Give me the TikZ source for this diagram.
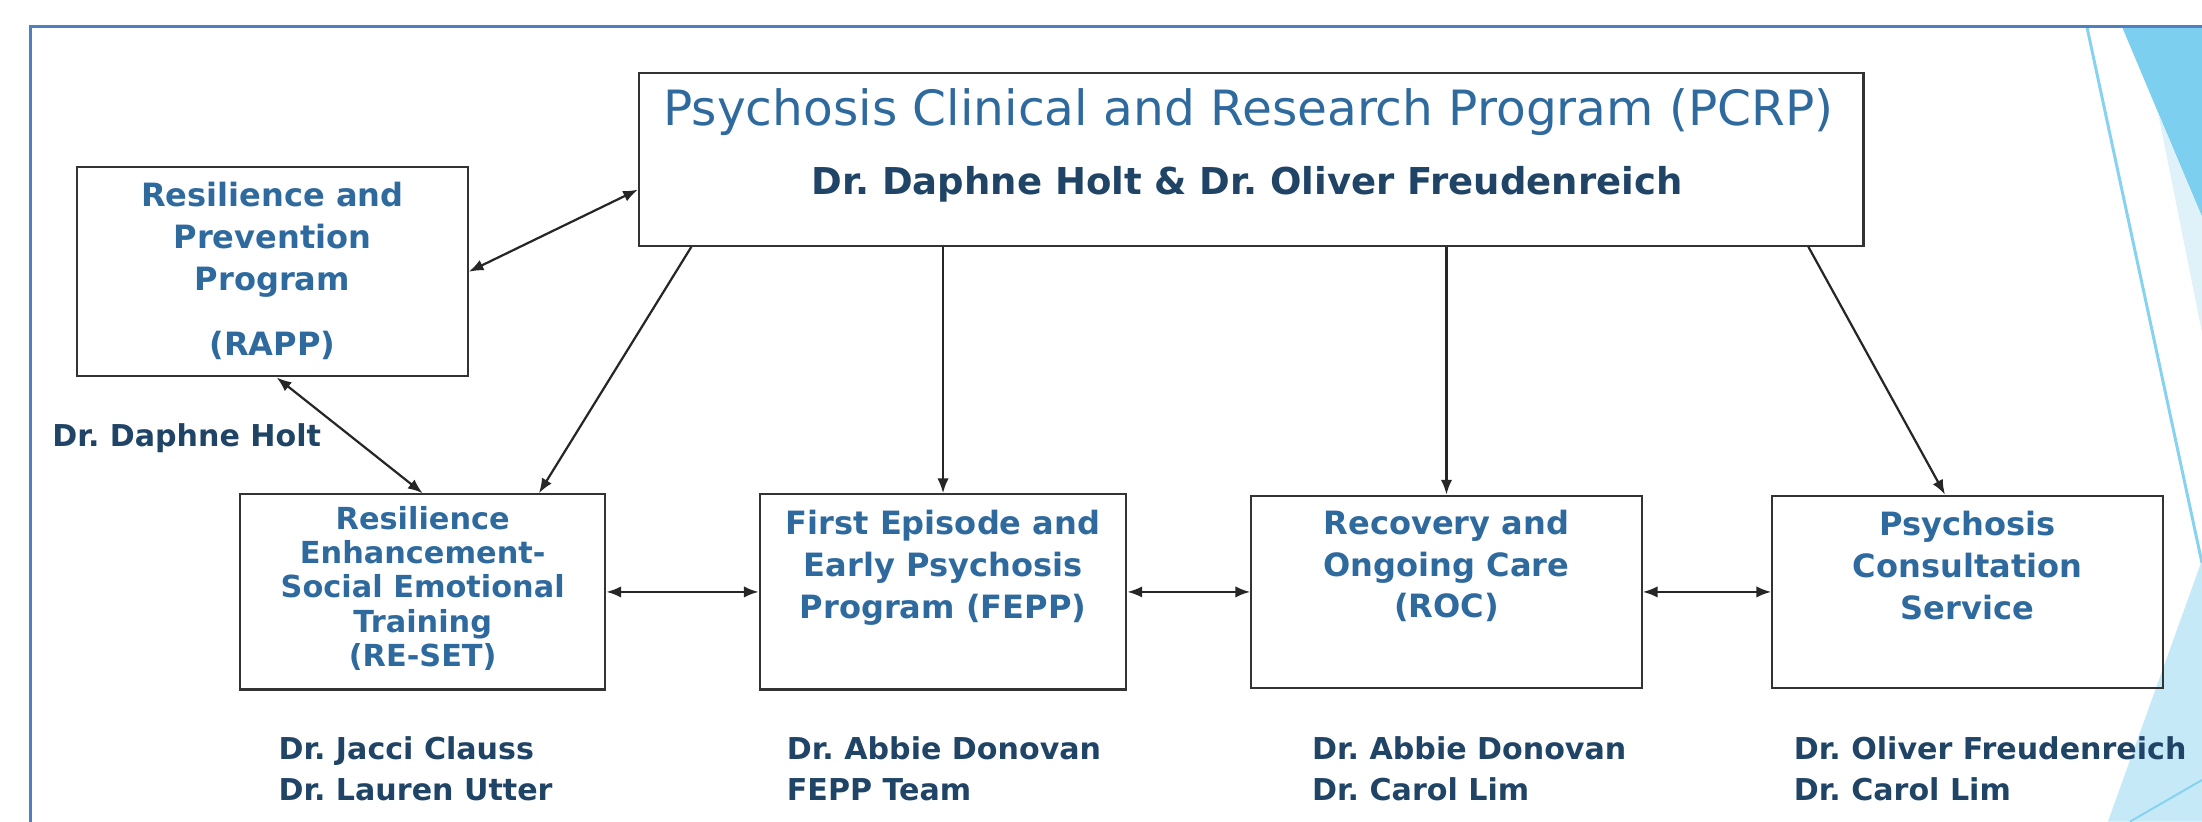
\documentclass[tikz,border=0pt]{standalone}
\usepackage{fontspec}
\setmainfont{DejaVu Sans}
\usepackage{tikz}
\usetikzlibrary{arrows.meta}
\frenchspacing

\definecolor{boxblue}{RGB}{46,106,158}
\definecolor{navy}{RGB}{31,68,102}
\definecolor{frameblue}{RGB}{78,127,192}
\definecolor{decodark}{RGB}{124,207,238}
\definecolor{decopale}{RGB}{223,242,250}
\definecolor{decolight}{RGB}{197,233,247}
\definecolor{decoline}{RGB}{134,210,240}

\begin{document}
\begin{tikzpicture}[x=0.02cm, y=-0.02cm, >={Latex[length=6pt,width=4.6pt]},
  prog/.style={draw=black!80, line width=0.9pt, inner sep=0pt},
  progtext/.style={align=center, text=boxblue, font=\bfseries\fontsize{13}{17}\selectfont},
  names/.style={anchor=west, align=left, inner sep=0pt, text=navy, font=\bfseries\fontsize{12.2}{16.5}\selectfont},
  link/.style={draw=black!85, line width=0.9pt}]
  \useasboundingbox (0,0) rectangle (1568,585);
  \clip (0,0) rectangle (1568,585);
  % slide background
  \fill[decodark] (1511,19) -- (1568,19) -- (1568,154.5) -- cycle;
  \fill[decopale] (1536.7,80.5) -- (1568,154.5) -- (1568,237) -- cycle;
  \fill[decolight] (1501,585) -- (1568,585) -- (1568,398.8) -- cycle;
  \draw[decoline, line width=1.2pt] (1486,19) -- (1568,401);
  \draw[decoline, line width=0.8pt] (1516.8,585) -- (1568,555.4);
  \draw[frameblue, line width=1.2pt] (22,600) -- (22,19) -- (1600,19);

  \node[prog, minimum width=17.44cm, minimum height=2.46cm] (pcrp) at (891,113.5) {};
  \node[prog, minimum width=5.56cm, minimum height=2.98cm] (rapp) at (194,193.5) {};
  \node[prog, minimum width=5.2cm, minimum height=2.78cm] (reset) at (301,421.5) {};
  \node[prog, minimum width=5.22cm, minimum height=2.78cm] (fepp) at (671.5,421.5) {};
  \node[prog, minimum width=5.56cm, minimum height=2.74cm] (roc) at (1030,421.5) {};
  \node[prog, minimum width=5.56cm, minimum height=2.74cm] (pcs) at (1401,421.5) {};

  \node[text=boxblue, font=\fontsize{19.7}{24}\selectfont] (pcrptitle) at (889,80) {Psychosis Clinical and Research Program (PCRP)};
  \node[text=navy, font=\bfseries\fontsize{15}{18}\selectfont] (pcrpheads) at (888,131) {Dr. Daphne Holt \& Dr. Oliver Freudenreich};
  \node[progtext] (rapptext) at (194,193) {Resilience and\\Prevention\\Program\\[9.7pt](RAPP)};
  \node[progtext, font=\bfseries\fontsize{12.3}{13.9}\selectfont] (resettext) at (301,419) {Resilience\\Enhancement-\\Social Emotional\\Training\\(RE-SET)};
  \node[progtext] (fepptext) at (671.5,404) {First Episode and\\Early Psychosis\\Program (FEPP)};
  \node[progtext] (roctext) at (1030,403) {Recovery and\\Ongoing Care\\(ROC)};
  \node[progtext] (pcstext) at (1401,403) {Psychosis\\Consultation\\Service};

  \node[names] (rappheads) at (37,312) {Dr. Daphne Holt};
  \node[names] (resetheads) at (198,547.5) {Dr. Jacci Clauss\\Dr. Lauren Utter};
  \node[names] (feppheads) at (560,547.5) {Dr. Abbie Donovan\\FEPP Team};
  \node[names] (rocheads) at (934,547.5) {Dr. Abbie Donovan\\Dr. Carol Lim};
  \node[names] (pcsheads) at (1277,547.5) {Dr. Oliver Freudenreich\\Dr. Carol Lim};

  \draw[link, <->] (rapp.east) -- ([yshift=-0.43cm]pcrp.west);
  \draw[link, <->] ([xshift=0.06cm]rapp.south) -- (reset.north);
  \draw[link, ->] ([xshift=0.76cm]pcrp.south west) -- ([xshift=-0.96cm]reset.north east);
  \draw[link, ->] (pcrp.south -| fepp.north) -- (fepp.north);
  \draw[link, ->] (pcrp.south -| roc.north) -- (roc.north);
  \draw[link, ->] ([xshift=-0.8cm]pcrp.south east) -- ([xshift=-0.32cm]pcs.north);
  \draw[link, <->] (reset) -- (fepp);
  \draw[link, <->] (fepp) -- (roc);
  \draw[link, <->] (roc) -- (pcs);
\end{tikzpicture}
\end{document}
